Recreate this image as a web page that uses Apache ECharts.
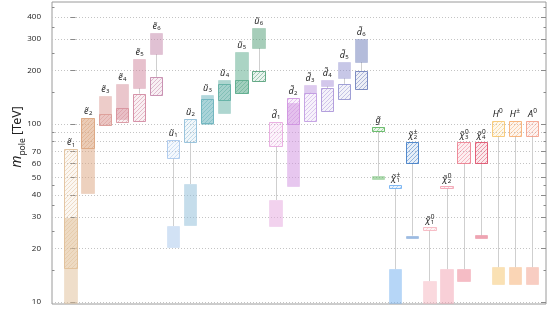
<!DOCTYPE html>
<html><head><meta charset="utf-8">
<script src="https://cdn.jsdelivr.net/npm/echarts@6/dist/echarts.min.js"></script>
<style>html,body{margin:0;padding:0;background:#fff}#c{width:550px;height:311px}</style>
</head><body><div id="c"></div>
<script>
// ---- data ----
const labelMain = ['ẽ','ẽ','ẽ','ẽ','ẽ','ẽ','ũ','ũ','ũ','ũ','ũ','ũ','d̃','d̃','d̃','d̃','d̃','d̃','g̃','χ̃','χ̃','χ̃','χ̃','χ̃','χ̃','H','H','A'];
const labelSup  = ['','','','','','','','','','','','','','','','','','','','±','±','0','0','0','0','0','±','0'];
const labelSub  = ['1','2','3','4','5','6','1','2','3','4','5','6','1','2','3','4','5','6','','1','2','1','2','3','4','','',''];
const filledLow  = [9.9, 41, 99, 106, 159, 247, 20.4, 27, 100, 115, 150, 267, 26.7, 45, 150, 163, 181, 223, 49.4, 9.9, 22.9, 9.9, 9.9, 13.1, 22.9, 12.6, 12.6, 12.6];
const filledHigh = [29.6, 108, 144, 168, 232, 324, 26.7, 46, 146, 177, 254, 346, 37.4, 131, 166, 177, 223, 300, 51, 15.3, 23.6, 13.1, 15.3, 15.3, 23.7, 15.7, 15.7, 15.7];
const hatchLow   = [15.5, 73, 99, 103, 104, 146, 64, 79, 101, 136, 149, 175, 75, 100, 104, 118, 138, 157, 91.5, 43.7, 60.4, 25.4, 43.7, 60.4, 60.4, 85.8, 85.8, 85.8];
const hatchHigh  = [72, 108, 114, 123, 148, 184, 81, 107, 138, 168, 177, 199, 103, 140, 149, 159, 168, 199, 96, 45.4, 79, 26.4, 44.9, 79, 79, 104, 104, 104];
const yLabelTicks = [10, 20, 30, 40, 50, 60, 70, 100, 200, 300, 400];
const yMinorTicks = [15, 25, 35, 45, 80, 90, 150, 250, 350, 450];
const yGridValues = [10, 20, 30, 40, 50, 60, 70, 80, 90, 100, 200, 300, 400];

// ---- styles ----
const colors = ['#e0be96','#dca47e','#dc9a94','#d68e9a','#d0839c','#c283a8',
  '#a6c6ec','#8cbcd8','#68b2bc','#5eaea2','#58a98a','#4e9c74',
  '#e6a6de','#cf90e0','#be98e0','#a890d8','#9090d0','#6a7ab8',
  '#58b45a','#6eaef0','#3a78c6','#f6b4be','#f2a0b0','#ec7a8c','#de4a66',
  '#f6c46a','#f6ac6c','#f29c86'];

function rgba(hex, a){
  const n = parseInt(hex.slice(1), 16);
  return 'rgba(' + ((n>>16)&255) + ',' + ((n>>8)&255) + ',' + (n&255) + ',' + a + ')';
}
const patterns = colors.map(function(col){
  const c = document.createElement('canvas'); c.width = 4; c.height = 4;
  const g = c.getContext('2d');
  g.fillStyle = rgba(col, 0.12); g.fillRect(0,0,4,4);
  g.strokeStyle = rgba(col, 0.55); g.lineWidth = 0.9;
  g.beginPath();
  g.moveTo(0,4); g.lineTo(4,0);
  g.moveTo(-1,1); g.lineTo(1,-1);
  g.moveTo(3,5); g.lineTo(5,3);
  g.stroke();
  return c;
});

const boxData = [];
const connData = [];
const labelData = [];
for (let i = 0; i < labelMain.length; i++) {
  boxData.push([i, filledLow[i], filledHigh[i], 0]);
}
for (let i = 0; i < labelMain.length; i++) {
  boxData.push([i, hatchLow[i], hatchHigh[i], 1]);
  let upLow, lowHigh;
  if (filledHigh[i] >= hatchHigh[i]) { upLow = filledLow[i]; lowHigh = hatchHigh[i]; }
  else { upLow = hatchLow[i]; lowHigh = filledHigh[i]; }
  if (upLow > lowHigh) connData.push([i, lowHigh, upLow]);
  labelData.push([i, Math.max(filledHigh[i], hatchHigh[i])]);
}

const yMin = 9.744, yMax = 484.6;
function yAx(extra){
  return Object.assign({type:'log', logBase:10, min:yMin, max:yMax,
    axisLine:{show:false}, splitLine:{show:false}, axisLabel:{show:false}}, extra);
}
const tickColor = '#8a8a8a';

const chart = echarts.init(document.getElementById('c'), null, {renderer:'canvas'});
chart.setOption({
  animation:false,
  grid:{left:52, right:4, top:2, bottom:7, show:true, borderColor:'#9a9a9a', borderWidth:1, backgroundColor:'transparent'},
  xAxis:{type:'value', min:-1.083, max:27.82, show:false},
  yAxis:[
    yAx({position:'left', axisTick:{show:true, inside:true, length:5, lineStyle:{color:tickColor}, customValues:yLabelTicks},
      axisLabel:{show:true, customValues:yLabelTicks, margin:11, fontSize:8, color:'#222', fontFamily:'Open Sans'}}),
    yAx({position:'left', axisTick:{show:true, inside:true, length:2.5, lineStyle:{color:tickColor}, customValues:yMinorTicks}}),
    yAx({position:'right', axisTick:{show:true, inside:true, length:5, lineStyle:{color:tickColor}, customValues:yLabelTicks}}),
    yAx({position:'right', axisTick:{show:true, inside:true, length:2.5, lineStyle:{color:tickColor}, customValues:yMinorTicks}}),
    yAx({position:'left', axisTick:{show:false, customValues:yGridValues},
      splitLine:{show:true, lineStyle:{color:'#c4c4c4', type:[1,2], width:1}}})
  ],
  graphic:[{
    type:'text', x:17, y:137, rotation:Math.PI/2,
    style:{text:'{i|m}{s|pole} [TeV]', align:'center', verticalAlign:'middle', fill:'#222',
      font:'12.5px "Noto Sans"',
      rich:{i:{fontStyle:'italic', fontSize:14, fontFamily:'Noto Sans', fill:'#222'},
            s:{fontSize:8.5, fontFamily:'Noto Sans', verticalAlign:'bottom', padding:[0,0,-3,0], fill:'#222'}}}
  }],
  series:[
    {
      type:'custom', yAxisIndex:0, data:connData, silent:true, z:1,
      renderItem:function(params, api){
        const i = api.value(0);
        const p1 = api.coord([i, api.value(1)]), p2 = api.coord([i, api.value(2)]);
        const x = Math.round(p1[0]) + 0.5;
        return {type:'line', shape:{x1:x, y1:p1[1], x2:x, y2:p2[1]}, style:{stroke:'#cfcfcf', lineWidth:1}};
      }
    },
    {
      type:'custom', yAxisIndex:0, data:boxData, silent:true, z:2,
      renderItem:function(params, api){
        const i = api.value(0), kind = api.value(3);
        const pTop = api.coord([i, api.value(2)]), pBot = api.coord([i, api.value(1)]);
        const xl = api.coord([i - 0.36, 20])[0], xr = api.coord([i + 0.36, 20])[0];
        const x0 = Math.round(xl) + 0.5, x1 = Math.round(xr) + 0.5;
        const y0 = Math.round(pTop[1]) + 0.5;
        let y1 = Math.round(pBot[1]) + 0.5;
        if (y1 - y0 < 2) y1 = y0 + 2;
        const col = colors[i];
        if (kind === 0) {
          return {type:'rect', shape:{x:x0, y:y0, width:x1-x0, height:y1-y0},
            style:{fill:rgba(col, 0.5), stroke:rgba(col, 0.25), lineWidth:1}};
        }
        return {type:'rect', shape:{x:x0, y:y0, width:x1-x0, height:y1-y0},
          style:{fill:{type:'pattern', image:patterns[i], repeat:'repeat'}, stroke:rgba(col, 0.85), lineWidth:1}};
      }
    },
    {
      type:'custom', yAxisIndex:0, data:labelData, silent:true, z:3,
      renderItem:function(params, api){
        const i = api.value(0);
        const p = api.coord([i, api.value(1)]);
        const hasSS = labelSup[i] || labelSub[i];
        const cx = p[0] + (hasSS ? 1 : 0), top = p[1];
        const fam = '"Noto Sans"';
        const children = [{type:'text', x:cx, y:top - 2,
          style:{text:labelMain[i], align:hasSS ? 'right' : 'center', verticalAlign:'bottom',
            font:'italic 9px ' + fam, fill:'#222'}}];
        if (labelSup[i]) children.push({type:'text', x:cx + 0.3, y:top - 6.5,
          style:{text:labelSup[i], align:'left', verticalAlign:'bottom', font:'6.5px ' + fam, fill:'#222'}});
        if (labelSub[i]) children.push({type:'text', x:cx + 0.3, y:top - 1.5,
          style:{text:labelSub[i], align:'left', verticalAlign:'bottom', font:'6px ' + fam, fill:'#222'}});
        return {type:'group', children:children};
      }
    }
  ]
});
</script></body></html>
